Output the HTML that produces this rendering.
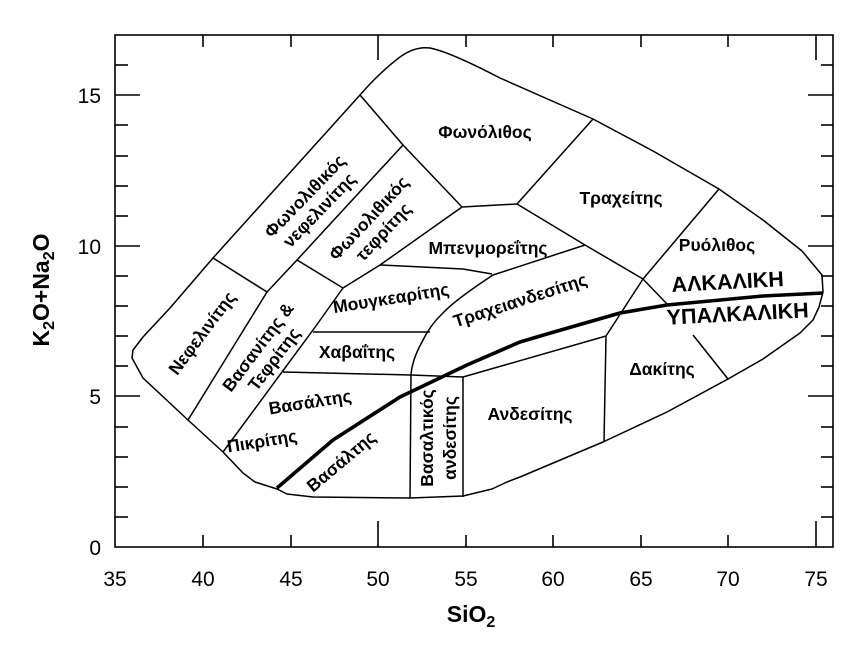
<!DOCTYPE html>
<html><head><meta charset="utf-8"><style>
html,body{margin:0;padding:0;background:#fff;}
svg{display:block;}
text{font-family:"Liberation Sans","DejaVu Sans",sans-serif;fill:#000;}
.l{font-size:17.5px;font-weight:bold;}
.t{font-size:21px;}
</style></head><body>
<svg width="868" height="661" viewBox="0 0 868 661" xmlns="http://www.w3.org/2000/svg">
<rect x="115" y="35" width="718" height="512" fill="none" stroke="#000" stroke-width="1.6"/>
<g stroke="#000" stroke-width="1.6">
<line x1="203" y1="547" x2="203" y2="535"/><line x1="291" y1="547" x2="291" y2="535"/><line x1="378" y1="547" x2="378" y2="521"/><line x1="466" y1="547" x2="466" y2="535"/><line x1="553" y1="547" x2="553" y2="535"/><line x1="641" y1="547" x2="641" y2="535"/><line x1="728" y1="547" x2="728" y2="535"/><line x1="816" y1="547" x2="816" y2="521"/>
<line x1="203" y1="35" x2="203" y2="47"/><line x1="291" y1="35" x2="291" y2="47"/><line x1="378" y1="35" x2="378" y2="60"/><line x1="466" y1="35" x2="466" y2="47"/><line x1="553" y1="35" x2="553" y2="47"/><line x1="641" y1="35" x2="641" y2="47"/><line x1="728" y1="35" x2="728" y2="47"/><line x1="816" y1="35" x2="816" y2="60"/>
<line x1="115" y1="517" x2="128" y2="517"/><line x1="115" y1="487" x2="128" y2="487"/><line x1="115" y1="457" x2="128" y2="457"/><line x1="115" y1="427" x2="128" y2="427"/><line x1="115" y1="396" x2="140" y2="396"/>
<line x1="115" y1="366" x2="128" y2="366"/><line x1="115" y1="336" x2="128" y2="336"/><line x1="115" y1="306" x2="128" y2="306"/><line x1="115" y1="276" x2="128" y2="276"/><line x1="115" y1="246" x2="140" y2="246"/>
<line x1="115" y1="216" x2="128" y2="216"/><line x1="115" y1="186" x2="128" y2="186"/><line x1="115" y1="156" x2="128" y2="156"/><line x1="115" y1="125" x2="128" y2="125"/><line x1="115" y1="95" x2="140" y2="95"/><line x1="115" y1="65" x2="128" y2="65"/>
<line x1="833" y1="517" x2="821" y2="517"/><line x1="833" y1="487" x2="821" y2="487"/><line x1="833" y1="457" x2="821" y2="457"/><line x1="833" y1="427" x2="821" y2="427"/><line x1="833" y1="396" x2="808" y2="396"/>
<line x1="833" y1="366" x2="821" y2="366"/><line x1="833" y1="336" x2="821" y2="336"/><line x1="833" y1="306" x2="821" y2="306"/><line x1="833" y1="276" x2="821" y2="276"/><line x1="833" y1="246" x2="808" y2="246"/>
<line x1="833" y1="216" x2="821" y2="216"/><line x1="833" y1="186" x2="821" y2="186"/><line x1="833" y1="156" x2="821" y2="156"/><line x1="833" y1="125" x2="821" y2="125"/><line x1="833" y1="95" x2="808" y2="95"/><line x1="833" y1="65" x2="821" y2="65"/>
</g>
<g fill="none" stroke="#000" stroke-width="1.5" stroke-linejoin="round">
<path d="M213,258 L360,95 Q380,72 400,57 Q415,46 430,48 Q450,52 500,78 L593,119 L653,151 L719,189 L763,220 L802,251 L822,275 L823,292 L819,307 L813,320 L800,333 L763,359 L728,379 L667,412 L603,442 L520,477 L507,482 L492,489 L463,496 L410,498 L313,497 L287,494 L277,489 L255,482 L243,473 L223,452 L188,420 L143,378 L132,358 L133,350 L143,337 L170,308 Z"/>
<path d="M213,258 L267,292 L188,420"/>
<path d="M360,95 L403,145 L462,207"/>
<path d="M403,145 L297,260 L267,292"/>
<path d="M297,260 L343,288"/>
<path d="M343,288 L313,330 L282,372 L223,452"/>
<path d="M343,288 L380,265 L462,207 L517,204 L593,119"/>
<path d="M380,265 L463,269 L492,274"/>
<path d="M517,204 L585,245 L643,279 L668,305"/>
<path d="M585,245 L493,275 Q455,300 443,313 Q430,325 422,342 Q412,360 411,375 L410,498"/>
<path d="M313,332 L430,332"/>
<path d="M283,372 L411,375 L463,377 L606,336"/>
<path d="M463,377 L463,497"/>
<path d="M719,189 L643,279 L606,336 L604,442"/>
<path d="M693,335 L728,379"/>
</g>
<path d="M277,488 L333,440 L400,397 L467,365 L520,342 L547,334 L620,313 L667,305 L763,296 L823,293" fill="none" stroke="#000" stroke-width="3.6" stroke-linejoin="round"/>
<g class="l" text-anchor="middle">
<text x="485" y="138">Φωνόλιθος</text>
<text x="621" y="204">Τραχείτης</text>
<text x="717" y="251">Ρυόλιθος</text>
<text x="662" y="375">Δακίτης</text>
<text x="530" y="420">Ανδεσίτης</text>
<text x="488" y="254">Μπενμορεΐτης</text>
<text x="357" y="358">Χαβαΐτης</text>
<text transform="translate(522,306) rotate(-18)">Τραχειανδεσίτης</text>
<text transform="translate(392,304) rotate(-9)">Μουγκεαρίτης</text>
<text transform="translate(311,408) rotate(-9)">Βασάλτης</text>
<text transform="translate(263,447) rotate(-9)">Πικρίτης</text>
<text transform="translate(345,466) rotate(-40)">Βασάλτης</text>
<text transform="translate(433,438) rotate(-90)">Βασαλτικός</text>
<text transform="translate(456,438) rotate(-90)">ανδεσίτης</text>
<text transform="translate(202,333) rotate(-53)" y="6">Νεφελινίτης</text>
<text transform="translate(266,353) rotate(-53)"><tspan x="0" y="-4">Βασανίτης &amp;</tspan><tspan x="0" y="16">Τεφρίτης</tspan></text>
<text transform="translate(312,203) rotate(-46)"><tspan x="0" y="-4">Φωνολιθικός</tspan><tspan x="0" y="16">νεφελινίτης</tspan></text>
<text transform="translate(376,225) rotate(-47)"><tspan x="0" y="-4">Φωνολιθικός</tspan><tspan x="0" y="16">τεφρίτης</tspan></text>
<text transform="translate(728,289) rotate(-3)" style="font-size:21.5px">ΑΛΚΑΛΙΚΗ</text>
<text transform="translate(738,321) rotate(-3)" style="font-size:21.5px">ΥΠΑΛΚΑΛΙΚΗ</text>
</g>
<g class="t" text-anchor="middle">
<text x="115" y="586">35</text><text x="203" y="586">40</text><text x="291" y="586">45</text><text x="378" y="586">50</text><text x="466" y="586">55</text><text x="553" y="586">60</text><text x="641" y="586">65</text><text x="728" y="586">70</text><text x="816" y="586">75</text>
</g>
<g class="t" text-anchor="end">
<text x="101" y="555">0</text><text x="101" y="404">5</text><text x="101" y="254">10</text><text x="101" y="103">15</text>
</g>
<text x="471" y="622" text-anchor="middle" style="font-size:23px;font-weight:bold">SiO<tspan dy="5" style="font-size:16px">2</tspan></text>
<text transform="translate(49,290) rotate(-90)" text-anchor="middle" style="font-size:23px;font-weight:bold">K<tspan dy="5" style="font-size:16px">2</tspan><tspan dy="-5">O+Na</tspan><tspan dy="5" style="font-size:16px">2</tspan><tspan dy="-5">O</tspan></text>
</svg>
</body></html>
